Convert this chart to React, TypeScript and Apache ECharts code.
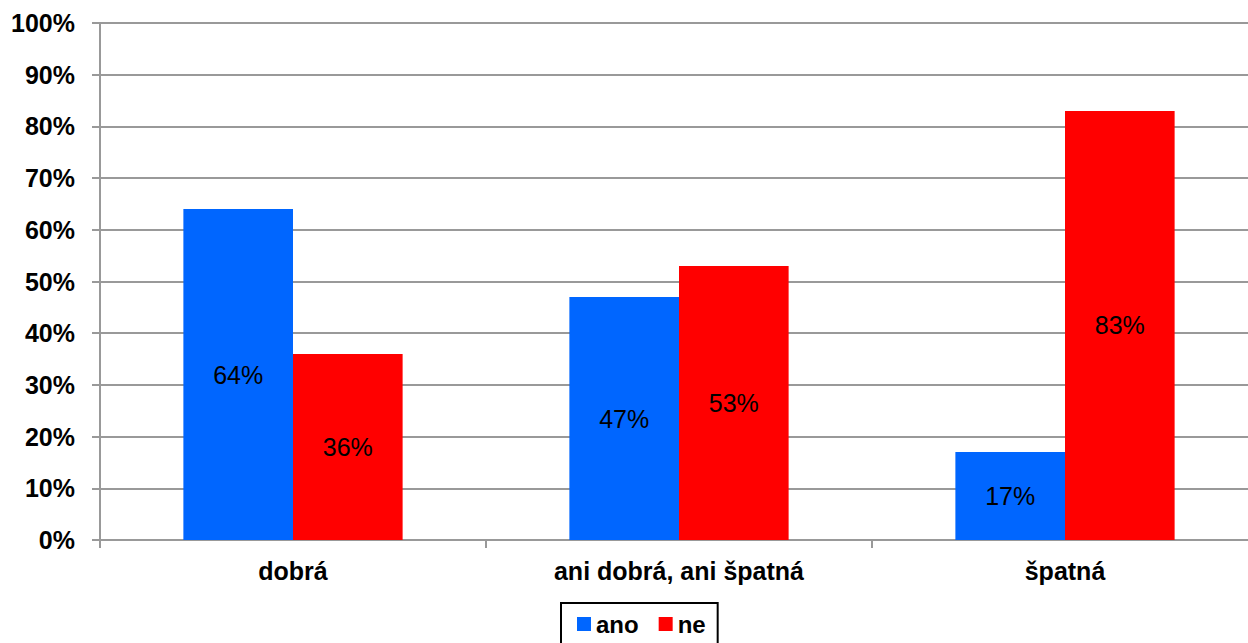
import React, { useEffect, useRef } from "react";
import * as echarts from "echarts";

const categories = ["dobrá", "ani dobrá, ani špatná", "špatná"];
const anoValues = [64, 47, 17];
const neValues = [36, 53, 83];
const seriesNames = ["ano", "ne"];

export default function App() {
  const ref = useRef<HTMLDivElement>(null);
  useEffect(() => {
    if (!ref.current) return;
    const chart = echarts.init(ref.current, null, { renderer: "svg" });
    const font = "Liberation Sans, Arial, sans-serif";
    const labelCfg = {
      show: true,
      position: "inside",
      formatter: (p: any) => `${p.value}%`,
      color: "#000",
      fontSize: 25,
      fontFamily: font,
    };
    chart.setOption({
      animation: false,
      backgroundColor: "#fff",
      grid: { left: 100, right: 0, top: 23, bottom: 103, containLabel: false },
      legend: {
        data: seriesNames,
        left: 561,
        top: 603,
        itemWidth: 14,
        itemHeight: 14,
        itemGap: 20,
        icon: "rect",
        borderColor: "#000",
        borderWidth: 2,
        padding: [9, 12, 20, 16],
        textStyle: { fontSize: 24, fontWeight: "bold", fontFamily: font, color: "#000" },
      },
      xAxis: {
        type: "category",
        data: categories,
        axisLine: { lineStyle: { color: "#999", width: 2 } },
        axisTick: { show: true, length: 8, lineStyle: { color: "#999", width: 2 } },
        axisLabel: { margin: 18, fontSize: 25, fontWeight: "bold", fontFamily: font, color: "#000" },
      },
      yAxis: {
        type: "value",
        min: 0,
        max: 100,
        interval: 10,
        axisLine: { show: true, lineStyle: { color: "#999", width: 2 } },
        axisTick: { show: true, length: 8, lineStyle: { color: "#999", width: 2 } },
        splitLine: { lineStyle: { color: "#999", width: 2 } },
        axisLabel: {
          formatter: "{value}%",
          margin: 25,
          fontSize: 25,
          fontWeight: "bold",
          fontFamily: font,
          color: "#000",
        },
      },
      series: [
        {
          name: seriesNames[0],
          type: "bar",
          data: anoValues,
          barWidth: "28.4%",
          barGap: "0%",
          itemStyle: { color: "#0066FF" },
          label: labelCfg,
        },
        {
          name: seriesNames[1],
          type: "bar",
          data: neValues,
          barWidth: "28.4%",
          itemStyle: { color: "#FF0000" },
          label: labelCfg,
        },
      ],
    });
    return () => chart.dispose();
  }, []);
  return (
    <div
      style={{ position: "absolute", left: 0, top: 0, width: 1248, height: 643, overflow: "hidden" }}
    >
      <div ref={ref} style={{ width: 1258, height: 643 }} />
    </div>
  );
}
